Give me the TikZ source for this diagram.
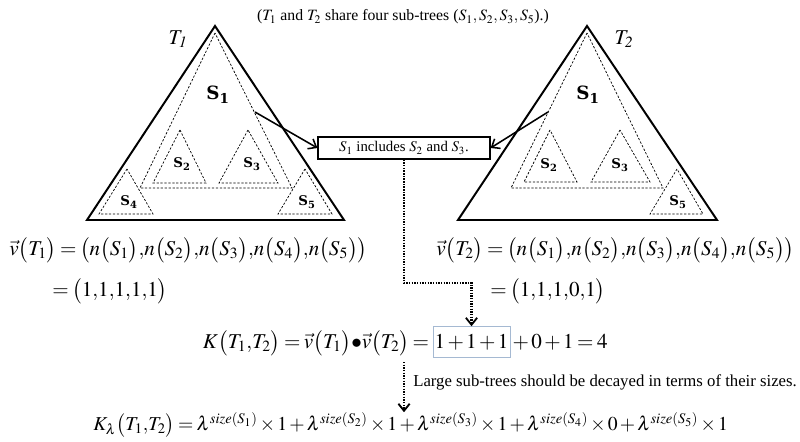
\documentclass[tikz,border=0pt]{standalone}
\usepackage{amsmath}
\usepackage{mathptmx}
\usepackage[no-math]{fontspec}
\setmainfont{Liberation Serif}
\newfontfamily\labelfont{DejaVu Serif}
\usetikzlibrary{arrows.meta,positioning}

\newcommand{\pr}[1]{\bigl(#1\bigr)}
\thickmuskip=3mu
\medmuskip=2mu

\tikzset{
  tree/.style={line width=1.4pt,line join=miter},
  subtree/.style={line width=0.5pt,dash pattern=on 1.6pt off 1.2pt},
  biglabel/.style={font=\labelfont\bfseries\fontsize{13}{15}\selectfont},
  smalllabel/.style={font=\labelfont\bfseries\fontsize{9.5}{11}\selectfont},
  link/.style={line width=1.1pt,-{Straight Barb[length=5pt,width=8pt]}},
  flow/.style={line width=1.6pt,dash pattern=on 1pt off 0.9pt,-{Straight Barb[length=5pt,width=8pt,line width=1.3pt]}},
  eqn/.style={font=\fontsize{15}{18}\selectfont,inner sep=0pt}
}

\begin{document}
\begin{tikzpicture}[x=0.025cm,y=-0.025cm]
  \useasboundingbox (0,0) rectangle (800,441);
  \node[font=\fontsize{11.2}{13}\selectfont] (caption) at (403,17)
    {($T_1$ and $T_2$ share four sub-trees ($S_1, S_2, S_3, S_5$).)};

  % tree T1
  \draw[tree] (215,26) -- (87,220) -- (344,220) -- cycle;
  \draw[subtree] (215,33) -- (140,188) -- (292,188) -- cycle;
  \draw[subtree] (180,130) -- (153,183) -- (206,183) -- cycle;
  \draw[subtree] (248,130) -- (219,183) -- (278,183) -- cycle;
  \draw[subtree] (127,169) -- (99,214) -- (153,214) -- cycle;
  \draw[subtree] (305,169) -- (278,214) -- (332,214) -- cycle;
  \node[font=\fontsize{15}{17}\selectfont] (tone) at (178,39) {$T_{\mathit{1}}$};
  \node[biglabel] (t1s1) at (218,95) {S\textsubscript{1}};
  \node[smalllabel] (t1s2) at (182,164) {S\textsubscript{2}};
  \node[smalllabel] (t1s3) at (252,164) {S\textsubscript{3}};
  \node[smalllabel] (t1s4) at (129,202) {S\textsubscript{4}};
  \node[smalllabel] (t1s5) at (307,202) {S\textsubscript{5}};

  % tree T2
  \draw[tree] (587,26) -- (458,220) -- (717,220) -- cycle;
  \draw[subtree] (587,33) -- (511,188) -- (663,188) -- cycle;
  \draw[subtree] (550,130) -- (524,182) -- (577,182) -- cycle;
  \draw[subtree] (620,130) -- (591,182) -- (650,182) -- cycle;
  \draw[subtree] (677,169) -- (650,214) -- (703,214) -- cycle;
  \node[font=\fontsize{15}{17}\selectfont] (ttwo) at (624,39) {$T_{\mathit{2}}$};
  \node[biglabel] (t2s1) at (588,95) {S\textsubscript{1}};
  \node[smalllabel] (t2s2) at (549,165) {S\textsubscript{2}};
  \node[smalllabel] (t2s3) at (620,165) {S\textsubscript{3}};
  \node[smalllabel] (t2s5) at (678,202) {S\textsubscript{5}};

  % note between the trees
  \node[draw,line width=1.1pt,minimum width=122pt,minimum height=15.6pt,inner sep=1pt,
        font=\fontsize{10.5}{12}\selectfont] (note) at (404,148) {$S_1$ includes $S_2$ and $S_3$.};
  \coordinate (t1from) at (255,112);
  \coordinate (t2from) at (548,112);
  \draw[link] (t1from) -- (note.west);
  \draw[link] (t2from) -- (note.east);

  % vectors
  \node[eqn,anchor=west] (vone) at (9,250)
    {$\vec{v}\pr{T_1}=\pr{n\pr{S_1}{,}n\pr{S_2}{,}n\pr{S_3}{,}n\pr{S_4}{,}n\pr{S_5}}$};
  \node[eqn,anchor=west] (vonex) at (52,291) {$=\pr{1{,}1{,}1{,}1{,}1}$};
  \node[eqn,anchor=west] (vtwo) at (436,250)
    {$\vec{v}\pr{T_2}=\pr{n\pr{S_1}{,}n\pr{S_2}{,}n\pr{S_3}{,}n\pr{S_4}{,}n\pr{S_5}}$};
  \node[eqn,anchor=west] (vtwox) at (490,291) {$=\pr{1{,}1{,}1{,}0{,}1}$};

  % kernel
  \node[eqn,draw={rgb,255:red,165;green,185;blue,210},line width=0.4pt,inner xsep=1pt,
        minimum height=22pt] (sum) at (471.5,342) {$1+1+1$};
  \node[eqn,anchor=base east] (kleft) at (sum.base west)
    {$K\pr{T_1{,}T_2}=\vec{v}\pr{T_1}\mathbin{\mkern-2mu\bullet\mkern-2mu}\vec{v}\pr{T_2}={}$};
  \node[eqn,anchor=base west] (kright) at (sum.base east) {${}+0+1=4$};
  \coordinate (turn) at (404,283);
  \draw[flow] (note.south) -- (turn) -| (sum.north);

  \node[font=\fontsize{11.9}{14}\selectfont,anchor=west,inner sep=0pt] (decay) at (413,382)
    {Large sub-trees should be decayed in terms of their sizes.};
  \node[eqn,font=\fontsize{14}{17}\selectfont,anchor=west] (klam) at (93,425)
    {$K_\lambda\pr{T_1{,}T_2}=\lambda^{\mathit{size}(S_1)}\times1+\lambda^{\mathit{size}(S_2)}\times1+\lambda^{\mathit{size}(S_3)}\times1+\lambda^{\mathit{size}(S_4)}\times0+\lambda^{\mathit{size}(S_5)}\times1$};
  \coordinate (decaytop) at (404,362);
  \draw[flow] (decaytop) -- (decaytop |- klam.north);
\end{tikzpicture}
\end{document}
